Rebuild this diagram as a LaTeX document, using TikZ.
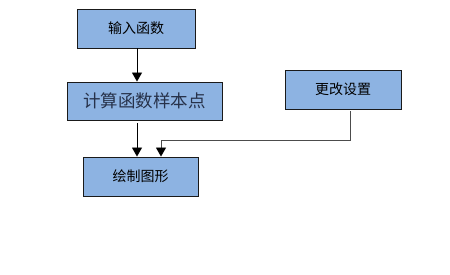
\documentclass[tikz,border=0pt]{standalone}
\usepackage{fontspec}
\newfontfamily\cjk{Noto Sans CJK SC}
\usetikzlibrary{arrows.meta}
\definecolor{boxfill}{HTML}{8DB3E2}
\definecolor{boxline}{HTML}{1A1A1A}
\definecolor{serifblue}{HTML}{27324A}
\tikzset{
  stepbox/.style={draw=boxline, fill=boxfill, line width=0.9pt, inner sep=0pt, font=\cjk\fontsize{14}{16}\selectfont},
  conn/.style={line width=0.9pt, -{Triangle[width=10pt,length=9pt,fill=black,color=black]}}
}
\begin{document}
\begin{tikzpicture}[x=1pt,y=-1pt]
\useasboundingbox (0,0) rectangle (450,275);
\node[stepbox, minimum width=118pt, minimum height=39pt] (b1) at (136,28.5) {输入函数};
\node[stepbox, minimum width=155pt, minimum height=38pt, text=serifblue, font=\cjk\fontsize{17.5}{20}\selectfont] (b2) at (144.5,101) {计算函数样本点};
\node[stepbox, minimum width=115pt, minimum height=39pt] (b3) at (140.5,176.5) {绘制图形};
\node[stepbox, minimum width=116pt, minimum height=39pt] (b4) at (343,89.5) {更改设置};
\draw[conn] ([xshift=1pt]b1.south) -- ([xshift=1pt]b1.south |- b2.north);
\draw[conn] ([xshift=-7.5pt,yshift=-3pt]b2.south) -- ([xshift=-7.5pt]b2.south |- b3.north);
\coordinate (bend) at ([xshift=7.5pt,yshift=-31pt]b4.south);
\draw[conn, draw=black!70] ([xshift=7.5pt,yshift=-2pt]b4.south) -- (bend) -| ([xshift=20.5pt]b3.north);
\end{tikzpicture}
\end{document}
